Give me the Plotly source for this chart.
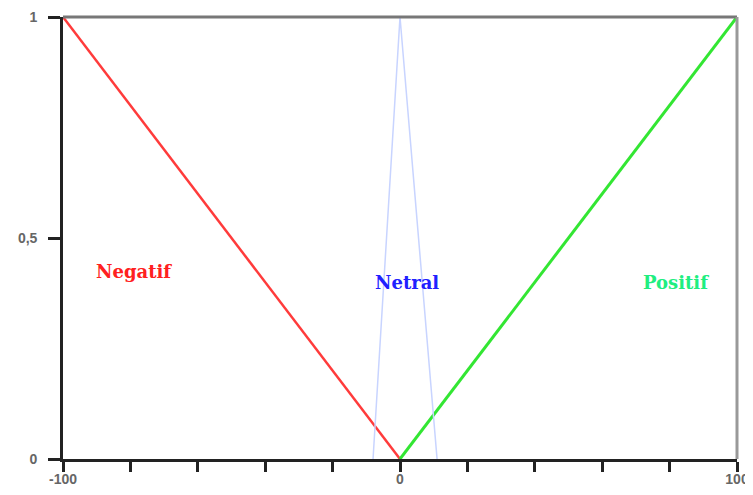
import plotly.graph_objects as go

# Data
neg_x = [-100, 0]
neg_y = [1, 0]
pos_x = [0, 100]
pos_y = [0, 1]
neu_x = [-8, 0, 11]
neu_y = [0, 1, 0]
x_tickvals = [-100, -80, -60, -40, -20, 0, 20, 40, 60, 80, 100]
x_labelvals = [-100, 0, 100]
x_labeltext = ["-100", "0", "100"]
y_tickvals = [0, 0.5, 1]
y_ticktext = ["0", "0,5", "1"]
labels = [("Negatif", -79, 0.425, "#ff2020"),
          ("Netral", 2, 0.40, "#2020ff"),
          ("Positif", 82, 0.40, "#20ee80")]

fig = go.Figure()
fig.add_trace(go.Scatter(x=neu_x, y=neu_y, mode="lines", xaxis="x2",
                         line=dict(color="#c8d4ff", width=1.5), hoverinfo="skip"))
fig.add_trace(go.Scatter(x=neg_x, y=neg_y, mode="lines",
                         line=dict(color="#ff3b3b", width=2.5)))
fig.add_trace(go.Scatter(x=pos_x, y=pos_y, mode="lines",
                         line=dict(color="#33e633", width=3)))

for txt, lx, ly, col in labels:
    fig.add_annotation(x=lx, y=ly, text=txt, showarrow=False,
                       font=dict(family="DejaVu Serif", size=18, color=col, weight="bold"))

# top and right frame lines
fig.add_shape(type="line", xref="paper", yref="paper", x0=0, x1=1, y0=1, y1=1,
              line=dict(color="#777777", width=3))
fig.add_shape(type="line", xref="paper", yref="paper", x0=1, x1=1, y0=0, y1=1,
              line=dict(color="#999999", width=3))

tf = dict(family="Liberation Sans", size=14, color="#666666", weight="bold")
nb = "\u00a0\u00a0"
fig.update_layout(
    width=745, height=487,
    margin=dict(l=55, r=16, t=9, b=36, autoexpand=False),
    plot_bgcolor="white", paper_bgcolor="white",
    showlegend=False,
    xaxis=dict(range=[-100, 100], tickvals=x_tickvals, showticklabels=False,
               automargin=False,
               showgrid=False, zeroline=False, showline=True, linecolor="#222222",
               linewidth=3, ticks="outside", ticklen=10, tickwidth=3, tickcolor="#222222"),
    xaxis2=dict(range=[-100, 100], overlaying="x", matches="x", anchor="y", side="bottom",
                tickvals=x_labelvals, ticktext=x_labeltext, ticks="outside", ticklen=7,
                tickcolor="rgba(0,0,0,0)", automargin=False,
                showgrid=False, zeroline=False, showline=False, tickfont=tf),
    yaxis=dict(range=[0, 1], tickvals=y_tickvals, ticktext=[t + nb for t in y_ticktext],
               automargin=False,
               showgrid=False, zeroline=False, showline=True, linecolor="#222222",
               linewidth=3, ticks="outside", ticklen=12, tickwidth=3, tickcolor="#222222",
               tickfont=tf),
)

fig.write_html("out.html")
